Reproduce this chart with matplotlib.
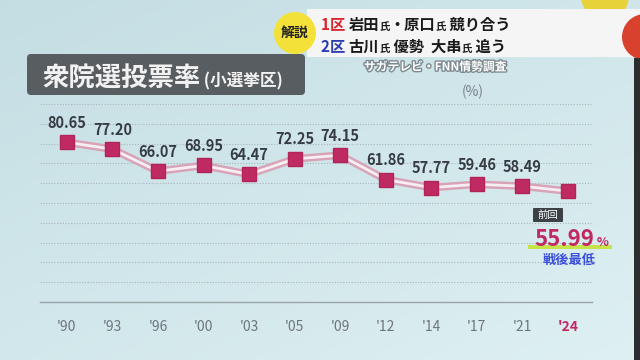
import numpy as np
import matplotlib
matplotlib.use("Agg")
import matplotlib.pyplot as plt
from matplotlib.patches import FancyBboxPatch, Circle, Rectangle
from matplotlib.transforms import IdentityTransform
import matplotlib.patheffects as pe

plt.rcParams['font.family'] = ['Noto Sans CJK JP', 'DejaVu Sans']

# data
years = ["'90", "'93", "'96", "'00", "'03", "'05", "'09", "'12", "'14", "'17", "'21", "'24"]
turnout = [80.65, 77.20, 66.07, 68.95, 64.47, 72.25, 74.15, 61.86, 57.77, 59.46, 58.49, 55.99]

W, H = 640, 360
CRIMSON = "#c02a62"


def px(x, y):
    # pixel position (top-left origin) -> figure fraction
    return x / W, 1 - y / H


def pxbox(x0, y0, x1, y1, **kw):
    # rounded box in display pixels
    return FancyBboxPatch((x0, H - y1), x1 - x0, y1 - y0, transform=IdentityTransform(), **kw)


def rich_text(fig, x, y, pieces):
    # draw pieces of text left to right, baseline shared
    r = fig.canvas.get_renderer()
    for s, size, color in pieces:
        t = fig.text(*px(x, y), s, fontsize=size, color=color, fontweight="bold",
                     va="baseline", ha="left")
        x += t.get_window_extent(r).width


fig = plt.figure(figsize=(6.4, 3.6), dpi=100)

# background gradient
bg = fig.add_axes([0, 0, 1, 1], zorder=-10)
gy, gx = np.mgrid[0:1:100j, 0:1:100j]
c1 = np.array([0.77, 0.87, 0.89])
c2 = np.array([0.87, 0.94, 0.95])
mix = np.clip(0.55 * gy + 0.45 * gx, 0, 1)[..., None]
bg.imshow(c1 * (1 - mix) + c2 * mix, extent=[0, 1, 0, 1], aspect="auto")
bg.set_axis_off()

# chart
ax = fig.add_axes([40 / W, 1 - 302 / H, (592 - 40) / W, 199 / H])
ax.patch.set_alpha(0)
x = np.arange(len(years))
ax.plot(x, turnout, color="#d8a3b6", lw=5.5, solid_joinstyle="round", zorder=2)
ax.plot(x, turnout, color="#f6eef2", lw=2, solid_joinstyle="round", zorder=3)
ax.plot(x, turnout, ls="none", marker="s", ms=9.5, color=CRIMSON, mec="#b02458", zorder=4)

for xi, v in zip(x[:-1], turnout[:-1]):
    ax.annotate(f"{v:.2f}", (xi, v), xytext=(0, 14), textcoords="offset points",
                ha="center", va="center", fontsize=10.5, color="#363c42", fontweight="bold")

ax.set_xlim(-0.59, 11.53)
ax.set_ylim(0, 100.5)
ax.set_yticks(np.arange(10, 101, 10))
ax.yaxis.grid(True, ls=(0, (1, 1.5)), color="#a9b5b9", lw=0.8)
ax.tick_params(axis="y", left=False, labelleft=False)
ax.set_xticks(x)
ax.set_xticklabels(years, fontsize=10, color="#6e767d")
ax.tick_params(axis="x", length=0, pad=13)
ax.get_xticklabels()[-1].set_color(CRIMSON)
ax.get_xticklabels()[-1].set_fontweight("bold")
for s in ["top", "left", "right"]:
    ax.spines[s].set_visible(False)
ax.spines["bottom"].set_color("#9aa3a8")
ax.spines["bottom"].set_linewidth(1)

# title box
fig.patches.append(pxbox(27, 54, 305, 95, boxstyle="round,pad=0,rounding_size=4",
                         fc="#585d62", ec="none"))
rich_text(fig, 42, 86, [("衆院選投票率", 19, "#f2f2f2"), (" (小選挙区)", 12, "#f2f2f2")])

# source and unit
fig.text(*px(435, 67), "サガテレビ・FNN情勢調査", fontsize=8.5, color="white", fontweight="bold",
         ha="center", va="center",
         path_effects=[pe.withStroke(linewidth=2, foreground="#7d8a90")])
fig.text(*px(473, 92), "(%)", fontsize=10, color="#7a8288", ha="center", va="center")

# last-election callout
fig.patches.append(pxbox(533, 208, 563, 222, boxstyle="round,pad=0,rounding_size=1",
                         fc="#3c4146", ec="none"))
fig.text(*px(548, 215), "前回", fontsize=7.5, color="white", ha="center", va="center")
fig.patches.append(Rectangle(px(528, 249), 84 / W, 4 / H, transform=fig.transFigure,
                             fc="#c6e44a", ec="none"))
rich_text(fig, 534, 246, [("55.99", 16, CRIMSON), (" %", 9, CRIMSON)])
fig.text(*px(569, 260), "戦後最低", fontsize=9.5, color="#3b4fd8", fontweight="bold",
         ha="center", va="center")

# news banner
fig.patches.append(Circle((605, H + 4), 24, transform=IdentityTransform(), fc="#e8d23a", ec="none"))
fig.patches.append(pxbox(307, 9, 640, 57, boxstyle="square,pad=0", fc="#f5f5f5", ec="none"))
fig.patches.append(Circle((645, H - 37), 23, transform=IdentityTransform(), fc="#d8412e", ec="none"))
fig.patches.append(Circle((295, H - 33), 21, transform=IdentityTransform(), fc="#f3e13a", ec="none"))
fig.text(*px(295, 33), "解説", fontsize=10, color="#222222", fontweight="bold",
         ha="center", va="center")
rich_text(fig, 321, 30, [("1区 ", 11, "#d8262c"), ("岩田", 11, "#1a1a1a"), ("氏", 7.5, "#1a1a1a"),
                         ("・原口", 11, "#1a1a1a"), ("氏", 7.5, "#1a1a1a"), (" 競り合う", 11, "#1a1a1a")])
rich_text(fig, 321, 52, [("2区 ", 11, "#2a3cb0"), ("古川", 11, "#1a1a1a"), ("氏", 7.5, "#1a1a1a"),
                         (" 優勢  大串", 11, "#1a1a1a"), ("氏", 7.5, "#1a1a1a"), (" 追う", 11, "#1a1a1a")])

# dark frame edge on the right
fig.patches.append(Rectangle(px(634, 360), 6 / W, 302 / H, transform=fig.transFigure,
                             fc="#2b2d2f", ec="none"))

fig.savefig("out.png", dpi=100)
